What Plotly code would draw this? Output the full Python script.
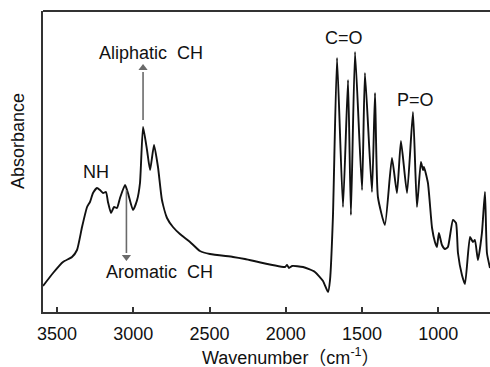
import plotly.graph_objects as go

# Wavenumber (cm-1) and absorbance (arbitrary units)
wavenumber = [3592, 3526, 3461, 3402, 3369, 3336, 3303, 3284, 3264, 3238,
              3218, 3198, 3179, 3166, 3146, 3126, 3107, 3087, 3054, 3035,
              3002, 2975, 2956, 2936, 2910, 2890, 2864, 2838, 2812, 2779,
              2740, 2694, 2628, 2563, 2497, 2346, 2268, 2005, 1992, 1979,
              1959, 1887, 1809, 1756, 1723, 1710, 1691, 1664, 1625, 1592,
              1573, 1546, 1500, 1481, 1435, 1415, 1396, 1350, 1304, 1271,
              1245, 1205, 1166, 1140, 1114, 1100, 1094, 1068, 1041, 1022,
              1009, 996, 976, 956, 937, 904, 884, 871, 845, 825,
              792, 773, 760, 740, 714, 694, 681, 661]
absorbance = [0.26, 0.39, 0.50, 0.55, 0.62, 0.85, 1.05, 1.10, 1.19, 1.24,
              1.22, 1.19, 1.20, 1.10, 0.99, 1.05, 1.04, 1.14, 1.27, 1.19,
              1.02, 1.12, 1.29, 1.85, 1.62, 1.42, 1.67, 1.45, 1.12, 0.94,
              0.85, 0.78, 0.70, 0.61, 0.58, 0.55, 0.53, 0.45, 0.47, 0.44,
              0.46, 0.45, 0.40, 0.31, 0.20, 0.32, 0.95, 2.54, 1.05, 2.32,
              0.97, 2.60, 1.22, 2.39, 1.20, 2.19, 1.15, 0.87, 1.54, 1.19,
              1.71, 1.19, 2.00, 1.05, 1.50, 1.42, 1.45, 1.29, 0.84, 0.70,
              0.65, 0.79, 0.67, 0.63, 0.65, 0.92, 0.89, 0.59, 0.37, 0.28,
              0.75, 0.70, 0.72, 0.52, 0.79, 1.20, 0.59, 0.44]

x_ticks = [3500, 3000, 2500, 2000, 1500, 1000]
x_tick_labels = ["3500", "3000", "2500", "2000", "1500", "1000"]

# Band labels and arrow positions
aliphatic_x, aliphatic_from, aliphatic_to = 2936, 1.92, 2.44
aromatic_x, aromatic_from, aromatic_to = 3045, 1.22, 0.55

FONT = "Liberation Sans, Arial, Noto Sans CJK SC, sans-serif"
FS = 18
ARROW_C = "#6a6a6a"

fig = go.Figure()
fig.add_trace(go.Scatter(
    x=wavenumber, y=absorbance, mode="lines",
    line=dict(color="#111111", width=1.9, shape="spline", smoothing=0.5),
    hoverinfo="skip", showlegend=False,
))

# Arrow heads
fig.add_trace(go.Scatter(
    x=[aliphatic_x], y=[aliphatic_to], mode="markers",
    marker=dict(symbol="triangle-up", size=8, color=ARROW_C),
    hoverinfo="skip", showlegend=False,
))
fig.add_trace(go.Scatter(
    x=[aromatic_x], y=[aromatic_to], mode="markers",
    marker=dict(symbol="triangle-down", size=8, color=ARROW_C),
    hoverinfo="skip", showlegend=False,
))

fig.update_layout(
    width=490, height=367,
    margin=dict(l=43, r=0, t=11, b=55),
    paper_bgcolor="white", plot_bgcolor="white",
    font=dict(family=FONT, size=FS, color="#111111"),
    xaxis=dict(
        range=[3592, 661], showgrid=False, zeroline=False,
        showline=True, linecolor="#333333", linewidth=2,
        ticks="inside", ticklen=5, tickwidth=2, tickcolor="#333333",
        tickvals=x_ticks, ticktext=x_tick_labels, ticklabelstandoff=4,
        tickfont=dict(size=FS, family=FONT, color="#111111"),
    ),
    yaxis=dict(
        range=[0, 3.01], showgrid=False, zeroline=False,
        showline=True, linecolor="#333333", linewidth=2,
        showticklabels=False, ticks="",
    ),
    shapes=[
        dict(type="line", xref="paper", yref="paper", x0=0, x1=1, y0=1, y1=1,
             line=dict(color="#333333", width=2)),
        dict(type="line", xref="x", yref="y",
             x0=aliphatic_x, x1=aliphatic_x, y0=aliphatic_from, y1=aliphatic_to - 0.04,
             line=dict(color=ARROW_C, width=1.6)),
        dict(type="line", xref="x", yref="y",
             x0=aromatic_x, x1=aromatic_x, y0=aromatic_from, y1=aromatic_to + 0.04,
             line=dict(color=ARROW_C, width=1.6)),
    ],
)

ann_font = dict(family=FONT, size=FS, color="#111111")
# Axis titles (positioned as in the reference)
fig.add_annotation(text="Wavenumber（cm<sup>-1</sup>）", xref="paper", yref="paper",
                   x=(291 - 43) / 447, y=-(356 - 312) / 301, showarrow=False,
                   font=ann_font, xanchor="center", yanchor="middle")
fig.add_annotation(text="Absorbance", xref="paper", yref="paper",
                   x=-(43 - 18) / 447, y=(312 - 141) / 301, showarrow=False,
                   textangle=-90, font=ann_font, xanchor="center", yanchor="middle")

# Peak labels
fig.add_annotation(text="NH", x=3245, y=1.40, showarrow=False, font=ann_font)
fig.add_annotation(text="C=O", x=1620, y=2.74, showarrow=False, font=ann_font)
fig.add_annotation(text="P=O", x=1150, y=2.12, showarrow=False, font=ann_font)
fig.add_annotation(text="Aliphatic&nbsp;&nbsp;CH", x=2885, y=2.59, showarrow=False, font=ann_font)
fig.add_annotation(text="Aromatic&nbsp;&nbsp;CH", x=2825, y=0.40, showarrow=False, font=ann_font)

fig.write_html("out.html")
